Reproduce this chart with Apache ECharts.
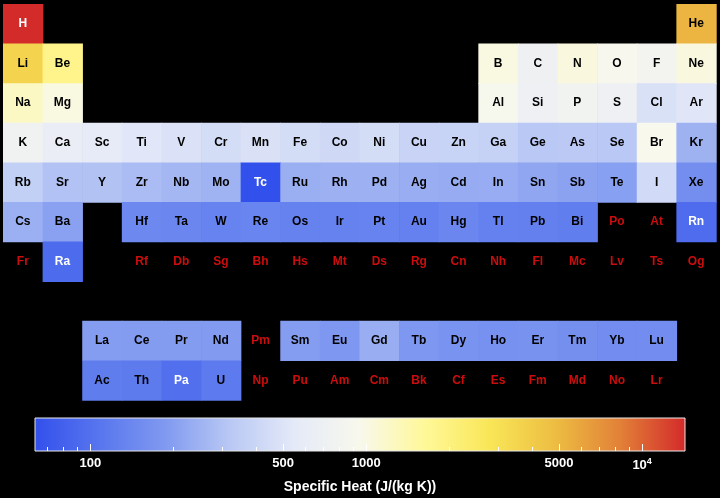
<!DOCTYPE html>
<html>
<head>
<meta charset="utf-8">
<script src="https://cdn.jsdelivr.net/npm/echarts@6/dist/echarts.min.js"></script>
<style>
  html, body { margin: 0; padding: 0; background: #000; }
  #chart { width: 720px; height: 498px; }
</style>
</head>
<body>
<div id="chart"></div>
<script>
// Element symbols in atomic-number order
const symbols = [
  'H', 'He', 'Li', 'Be', 'B', 'C', 'N', 'O', 'F', 'Ne',
  'Na', 'Mg', 'Al', 'Si', 'P', 'S', 'Cl', 'Ar', 'K', 'Ca',
  'Sc', 'Ti', 'V', 'Cr', 'Mn', 'Fe', 'Co', 'Ni', 'Cu', 'Zn',
  'Ga', 'Ge', 'As', 'Se', 'Br', 'Kr', 'Rb', 'Sr', 'Y', 'Zr',
  'Nb', 'Mo', 'Tc', 'Ru', 'Rh', 'Pd', 'Ag', 'Cd', 'In', 'Sn',
  'Sb', 'Te', 'I', 'Xe', 'Cs', 'Ba', 'La', 'Ce', 'Pr', 'Nd',
  'Pm', 'Sm', 'Eu', 'Gd', 'Tb', 'Dy', 'Ho', 'Er', 'Tm', 'Yb',
  'Lu', 'Hf', 'Ta', 'W', 'Re', 'Os', 'Ir', 'Pt', 'Au', 'Hg',
  'Tl', 'Pb', 'Bi', 'Po', 'At', 'Rn', 'Fr', 'Ra', 'Ac', 'Th',
  'Pa', 'U', 'Np', 'Pu', 'Am', 'Cm', 'Bk', 'Cf', 'Es', 'Fm',
  'Md', 'No', 'Lr', 'Rf', 'Db', 'Sg', 'Bh', 'Hs', 'Mt', 'Ds',
  'Rg', 'Cn', 'Nh', 'Fl', 'Mc', 'Lv', 'Ts', 'Og'
];

// Specific heat in J/(kg K), same order; null = no data
const specificHeat = [
  14304, 5193.1, 3582, 1825, 1026, 708.9, 1040, 918, 824, 1030,
  1228, 1023, 897, 705, 769.7, 705, 478.2, 520.33, 757, 631,
  567, 523, 489, 449, 479, 449, 421, 445, 384.4, 388,
  371, 321.4, 328, 321.2, 947.3, 248.05, 364, 300, 298, 278,
  265, 251, 63, 238, 243, 244, 235, 230, 233, 217,
  207, 201, 429, 158.32, 242, 205, 195, 192, 193, 190,
  null, 196, 182, 236, 182, 170, 165, 168, 160, 154,
  154, 144, 140, 132, 137, 130, 131, 133, 129.1, 139.5,
  129, 127, 122, null, null, 93.65, null, 92, 120, 118,
  99.1, 116, null, null, null, null, null, null, null, null,
  null, null, null, null, null, null, null, null, null, null,
  null, null, null, null, null, null, null, null
];

// Colour bar ticks
const majorTicks = [100, 500, 1000, 5000, 10000];
const minorTicks = [70, 80, 90, 200, 300, 400, 600, 700, 800, 900,
  2000, 3000, 4000, 6000, 7000, 8000, 9000];

// Temperature-map style gradient, low -> high
const gradient = [
  '#3250eb', '#5876ee', '#8099f0', '#b9c8f4', '#e5eaf8', '#f8f8ec',
  '#fff898', '#f9e657', '#edbd42', '#e28038', '#d32a2a'
];

const fontFamily = '"Liberation Sans", Arial, Helvetica, sans-serif';

/**
 * Table position of an element (column 0-17, row 0-9; rows 8/9 = f-block)
 */
function tablePosition(z) {
  if (z === 1) return [0, 0];
  if (z === 2) return [17, 0];
  if (z <= 18) {
    const row = z <= 10 ? 1 : 2;
    const k = z - (row === 1 ? 3 : 11);
    return [k < 2 ? k : k + 10, row];
  }
  if (z <= 54) {
    const row = z <= 36 ? 3 : 4;
    return [(z - (row === 3 ? 19 : 37)), row];
  }
  const start = z <= 86 ? 55 : 87;
  const row = z <= 86 ? 5 : 6;
  const k = z - start;
  if (k < 2) return [k, row];
  if (k < 17) return [k, row + 3];   // lanthanides / actinides
  return [k - 14, row];
}

const logHeat = specificHeat.filter(v => v !== null).map(v => Math.log10(v));
const logMin = Math.min(...logHeat);
const logMax = Math.max(...logHeat);

const cellData = [];
const missingData = [];
symbols.forEach((sym, i) => {
  const pos = tablePosition(i + 1);
  const heat = specificHeat[i];
  if (heat === null) {
    missingData.push({ name: sym, value: pos });
  } else {
    // light text on the darkest cells
    const light = heat < 110 || heat > 10000 ? 1 : 0;
    cellData.push({ name: sym, value: [pos[0], pos[1], Math.log10(heat), light] });
  }
});

const columns = Array.from({ length: 18 }, (_, i) => i);
const rows = Array.from({ length: 10 }, (_, i) => i);

function tickLabel(v) {
  const n = Math.round(Math.pow(10, v));
  return n === 10000 ? '10{s|4}' : String(n);
}

const chart = echarts.init(document.getElementById('chart'));

chart.setOption({
  backgroundColor: '#000',
  animation: false,
  title: {
    text: 'Specific Heat (J/(kg K))',
    left: 'center',
    top: 480,
    padding: 0,
    textStyle: { color: '#fff', fontSize: 14, fontWeight: 'bold', fontFamily: fontFamily }
  },
  grid: [
    { left: 3, right: 4, top: 4, height: 396 },
    { left: 35, right: 35, top: 418, height: 33 }
  ],
  xAxis: [
    { type: 'category', data: columns, gridIndex: 0, show: false },
    {
      type: 'value', gridIndex: 1, min: logMin, max: logMax, z: 5,
      axisLine: { show: false },
      splitLine: { show: false },
      axisTick: {
        inside: true, length: 7,
        customValues: majorTicks.map(Math.log10),
        lineStyle: { color: '#fff', width: 1 }
      },
      axisLabel: {
        customValues: majorTicks.map(Math.log10),
        formatter: tickLabel,
        margin: 6,
        color: '#fff', fontSize: 13, fontWeight: 'bold', fontFamily: fontFamily,
        rich: {
          s: { fontSize: 9, fontWeight: 'bold', color: '#fff', fontFamily: fontFamily,
               verticalAlign: 'top', padding: [0, 0, 7, 0] }
        }
      }
    },
    {
      type: 'value', gridIndex: 1, min: logMin, max: logMax, z: 5,
      position: 'bottom',
      axisLine: { show: false },
      splitLine: { show: false },
      axisTick: {
        inside: true, length: 4,
        customValues: minorTicks.map(Math.log10),
        lineStyle: { color: '#fff', width: 1 }
      },
      axisLabel: { show: false }
    }
  ],
  yAxis: [
    { type: 'category', data: rows, gridIndex: 0, inverse: true, show: false },
    { type: 'value', gridIndex: 1, min: 0, max: 1, show: false }
  ],
  visualMap: {
    type: 'continuous',
    show: false,
    seriesIndex: 0,
    dimension: 2,
    min: logMin,
    max: logMax,
    inRange: { color: gradient }
  },
  series: [
    {
      // element cells, slightly enlarged so neighbours overlap without seams
      type: 'custom',
      xAxisIndex: 0, yAxisIndex: 0,
      data: cellData,
      renderItem: function(params, api) {
        const c = api.coord([api.value(0), api.value(1)]);
        const size = api.size([1, 1]);
        const light = api.value(3) === 1;
        return {
          type: 'group',
          children: [
            {
              type: 'rect',
              shape: { x: c[0] - size[0] / 2, y: c[1] - size[1] / 2,
                       width: size[0] + 0.7, height: size[1] + 0.7 },
              style: { fill: api.visual('color') }
            },
            {
              type: 'text',
              z2: 10,
              style: {
                text: cellData[params.dataIndex].name,
                x: c[0], y: c[1],
                align: 'center', verticalAlign: 'middle',
                fill: light ? '#fff' : '#000',
                font: 'bold 12px ' + fontFamily
              }
            }
          ]
        };
      }
    },
    {
      type: 'scatter',
      xAxisIndex: 0, yAxisIndex: 0,
      data: missingData,
      symbolSize: 0,
      label: {
        show: true, position: 'inside',
        formatter: p => p.name,
        color: '#ff1010', fontSize: 12, fontWeight: 'bold', fontFamily: fontFamily
      }
    },
    {
      type: 'custom',
      xAxisIndex: 1, yAxisIndex: 1, z: 1,
      data: [[logMin, logMax]],
      renderItem: function(params, api) {
        const p0 = api.coord([api.value(0), 1]);
        const p1 = api.coord([api.value(1), 0]);
        return {
          type: 'rect',
          shape: { x: p0[0], y: p0[1], width: p1[0] - p0[0], height: p1[1] - p0[1] },
          style: {
            fill: new echarts.graphic.LinearGradient(0, 0, 1, 0,
              gradient.map((col, i) => ({ offset: i / (gradient.length - 1), color: col }))),
            stroke: '#e8e8e8',
            lineWidth: 1
          }
        };
      }
    }
  ]
});
</script>
</body>
</html>
